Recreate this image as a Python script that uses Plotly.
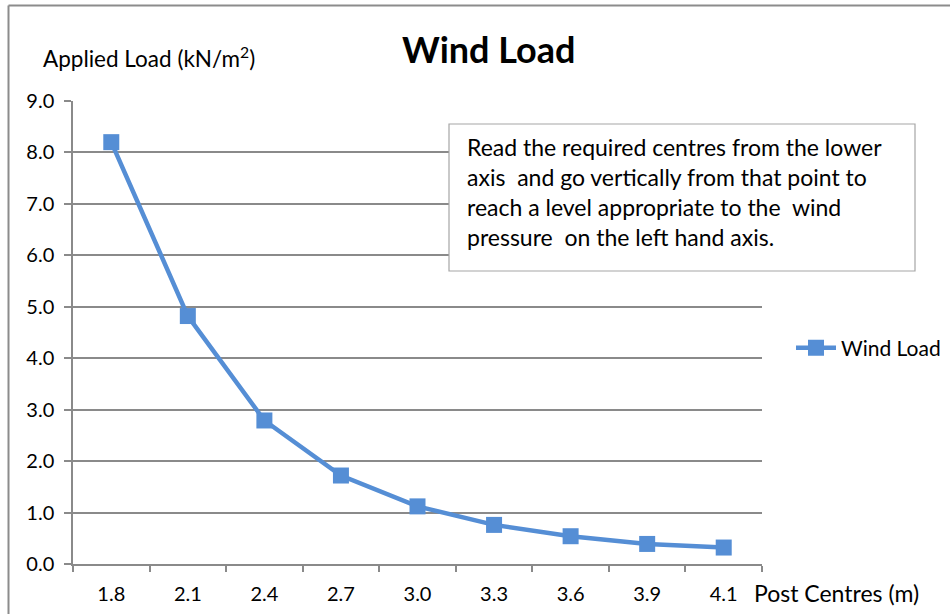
import plotly.graph_objects as go

categories = ["1.8", "2.1", "2.4", "2.7", "3.0", "3.3", "3.6", "3.9", "4.1"]
wind_load = [8.2, 4.82, 2.79, 1.72, 1.12, 0.76, 0.54, 0.39, 0.32]
y_ticks = [0, 1, 2, 3, 4, 5, 6, 7, 8, 9]

W, H = 952, 616
L, R, T, B = 73, 190, 101, 52
pw, ph = W - L - R, H - T - B

def px(x):
    return (x - L) / pw

def py(y):
    return (H - B - y) / ph

FONT = "Lato"
line_color = "#558ED5"
grid_color = "#8A8A8A"

fig = go.Figure()
fig.add_trace(go.Scatter(
    x=categories, y=wind_load, mode="lines+markers", name="Wind Load",
    line=dict(color=line_color, width=4.5),
    marker=dict(symbol="square", size=16, color=line_color),
))

fig.update_layout(
    width=W, height=H,
    margin=dict(l=L, r=R, t=T, b=B, autoexpand=False),
    paper_bgcolor="white", plot_bgcolor="white",
    font=dict(family=FONT, size=20, color="#000000"),
    showlegend=True,
    legend=dict(xref="container", yref="container",
                x=791 / W, y=1 - 348 / H, xanchor="left", yanchor="middle",
                font=dict(family=FONT, size=21, color="#000000"),
                bgcolor="rgba(0,0,0,0)", itemwidth=40),
    xaxis=dict(
        type="category", range=[-0.5, 8.5], tickson="boundaries",
        ticks="outside", ticklen=6, tickcolor=grid_color, tickwidth=1.5,
        showline=True, linecolor=grid_color, linewidth=1.5,
        showgrid=False, tickfont=dict(family=FONT, size=20),
        ticklabelstandoff=11, fixedrange=True, automargin=False,
    ),
    yaxis=dict(
        range=[0, 9], tickvals=y_ticks, tickformat=".1f",
        ticks="outside", ticklen=7, tickcolor=grid_color, tickwidth=1.5,
        showline=True, linecolor=grid_color, linewidth=1.5,
        showgrid=True, gridcolor=grid_color, gridwidth=1.5,
        zeroline=False, tickfont=dict(family=FONT, size=20),
        ticklabelstandoff=6, fixedrange=True, automargin=False,
    ),
    shapes=[
        # outer chart border (left and top edges visible)
        dict(type="line", xref="paper", yref="paper",
             x0=px(8.5), x1=px(8.5), y0=py(5.5), y1=py(614),
             line=dict(color="#8C8C8C", width=2), layer="above"),
        dict(type="line", xref="paper", yref="paper",
             x0=px(8.5), x1=px(950), y0=py(5.5), y1=py(5.5),
             line=dict(color="#8C8C8C", width=2), layer="above"),
        # note box
        dict(type="rect", xref="paper", yref="paper",
             x0=px(449), x1=px(915), y0=py(271), y1=py(124),
             line=dict(color="#A6A6A6", width=1.2), fillcolor="white",
             layer="above"),
    ],
    annotations=[
        dict(text="<b>Wind Load</b>", xref="paper", yref="paper",
             x=px(488), y=py(49), xanchor="center", yanchor="middle",
             showarrow=False, font=dict(family=FONT, size=36)),
        dict(text="Applied Load (kN/m<sup>2</sup>)", xref="paper", yref="paper",
             x=px(41), y=py(57), xanchor="left", yanchor="middle",
             showarrow=False, font=dict(family=FONT, size=22.5)),
        dict(text="Post Centres (m)", xref="paper", yref="paper",
             x=px(752), y=py(593), xanchor="left", yanchor="middle",
             showarrow=False, font=dict(family=FONT, size=23)),
        dict(text=("Read the required centres from the lower<br>"
                   "axis  and go vertically from that point to<br>"
                   "reach a level appropriate to the  wind<br>"
                   "pressure  on the left hand axis."),
             xref="paper", yref="paper",
             x=px(465), y=py(192), xanchor="left", yanchor="middle",
             align="left", showarrow=False,
             font=dict(family=FONT, size=23)),
    ],
)

fig.write_html("out.html", config={"displayModeBar": False},
               post_script="document.body.style.margin='0';document.body.style.overflow='hidden';")
